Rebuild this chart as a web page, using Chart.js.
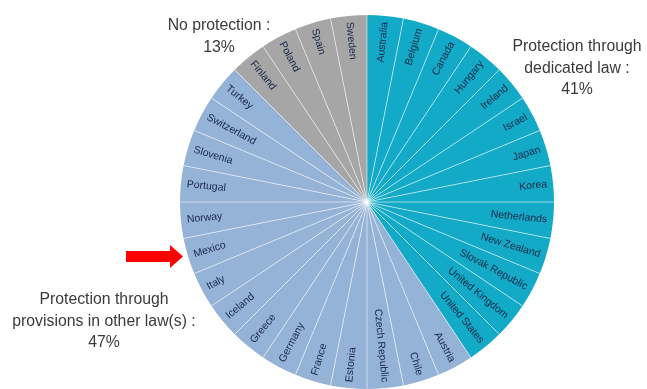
<!DOCTYPE html>
<html>
<head>
<meta charset="utf-8">
<script src="https://cdn.jsdelivr.net/npm/chart.js@4.4.0/dist/chart.umd.min.js"></script>
<style>
  html, body { margin: 0; padding: 0; background: #fff; }
  #wrap { width: 647px; height: 389px; position: relative; }
</style>
</head>
<body>
<div id="wrap"><canvas id="pie" width="647" height="389"></canvas></div>
<script>
// countries, clockwise from 12 o'clock
const countries = [
  'Australia', 'Belgium', 'Canada', 'Hungary', 'Ireland', 'Israel', 'Japan', 'Korea',
  'Netherlands', 'New Zealand', 'Slovak Republic', 'United Kingdom', 'United States',
  'Austria', 'Chile', 'Czech Republic', 'Estonia', 'France', 'Germany', 'Greece',
  'Iceland', 'Italy', 'Mexico', 'Norway', 'Portugal', 'Slovenia', 'Switzerland', 'Turkey',
  'Finland', 'Poland', 'Spain', 'Sweden'
];
// each country counts once
const shares = countries.map(() => 1);
// 0 = dedicated law, 1 = provisions in other law(s), 2 = no protection
const groups = [
  0, 0, 0, 0, 0, 0, 0, 0, 0, 0, 0, 0, 0,
  1, 1, 1, 1, 1, 1, 1, 1, 1, 1, 1, 1, 1, 1, 1,
  2, 2, 2, 2
];
const groupColors = ['#12aac6', '#95b3d7', '#a6a6a6'];

const callouts = [
  { lines: ['No protection :', '13%'], x: 219, y: 26 },
  { lines: ['Protection through', 'dedicated law :', '41%'], x: 577, y: 47 },
  { lines: ['Protection through', 'provisions in other law(s) :', '47%'], x: 104, y: 300 }
];

// thin white lines between slices, drawn from the arcs' own angles
const separators = {
  id: 'separators',
  afterDatasetsDraw(chart) {
    const ctx = chart.ctx;
    const meta = chart.getDatasetMeta(0);
    ctx.save();
    ctx.strokeStyle = 'rgba(255,255,255,0.7)';
    ctx.lineWidth = 0.8;
    meta.data.forEach(arc => {
      const p = arc.getProps(['x', 'y', 'startAngle', 'outerRadius'], true);
      ctx.beginPath();
      ctx.moveTo(p.x, p.y);
      ctx.lineTo(p.x + Math.cos(p.startAngle) * p.outerRadius, p.y + Math.sin(p.startAngle) * p.outerRadius);
      ctx.stroke();
    });
    ctx.restore();
  }
};

const sliceLabels = {
  id: 'sliceLabels',
  afterDatasetsDraw(chart) {
    const ctx = chart.ctx;
    const meta = chart.getDatasetMeta(0);
    ctx.save();
    ctx.font = '10.5px "Liberation Sans", Arial, sans-serif';
    ctx.fillStyle = '#18284a';
    ctx.textBaseline = 'middle';
    meta.data.forEach((arc, i) => {
      const p = arc.getProps(['x', 'y', 'startAngle', 'endAngle', 'outerRadius'], true);
      const a = (p.startAngle + p.endAngle) / 2;
      const r = p.outerRadius - 6;
      const tx = p.x + Math.cos(a) * r;
      const ty = p.y + Math.sin(a) * r;
      ctx.save();
      ctx.translate(tx, ty);
      const deg = ((a * 180 / Math.PI) % 360 + 360) % 360;
      if (deg > 90 && deg < 270) {
        ctx.rotate(a + Math.PI);
        ctx.textAlign = 'left';
      } else {
        ctx.rotate(a);
        ctx.textAlign = 'right';
      }
      ctx.fillText(countries[i], 0, 0);
      ctx.restore();
    });
    ctx.restore();
  }
};

const extras = {
  id: 'extras',
  afterDraw(chart) {
    const ctx = chart.ctx;
    ctx.save();
    ctx.font = '15.8px "Liberation Sans", Arial, sans-serif';
    ctx.fillStyle = '#3a3a3a';
    ctx.textAlign = 'center';
    ctx.textBaseline = 'middle';
    callouts.forEach(c => {
      c.lines.forEach((t, k) => ctx.fillText(t, c.x, c.y + k * 21.5));
    });
    // red arrow pointing at Mexico
    ctx.fillStyle = '#ff0000';
    ctx.beginPath();
    ctx.moveTo(126, 251);
    ctx.lineTo(170, 251);
    ctx.lineTo(170, 245);
    ctx.lineTo(183, 256.5);
    ctx.lineTo(170, 268);
    ctx.lineTo(170, 262);
    ctx.lineTo(126, 262);
    ctx.closePath();
    ctx.fill();
    ctx.restore();
  }
};

new Chart(document.getElementById('pie'), {
  type: 'pie',
  data: {
    labels: countries,
    datasets: [{
      data: shares,
      backgroundColor: groups.map(g => groupColors[g]),
      borderWidth: 0
    }]
  },
  options: {
    responsive: false,
    animation: false,
    layout: { padding: { left: 180, right: 93, top: 15, bottom: 0 } },
    plugins: {
      legend: { display: false },
      tooltip: { enabled: false }
    }
  },
  plugins: [separators, sliceLabels, extras]
});
</script>
</body>
</html>
